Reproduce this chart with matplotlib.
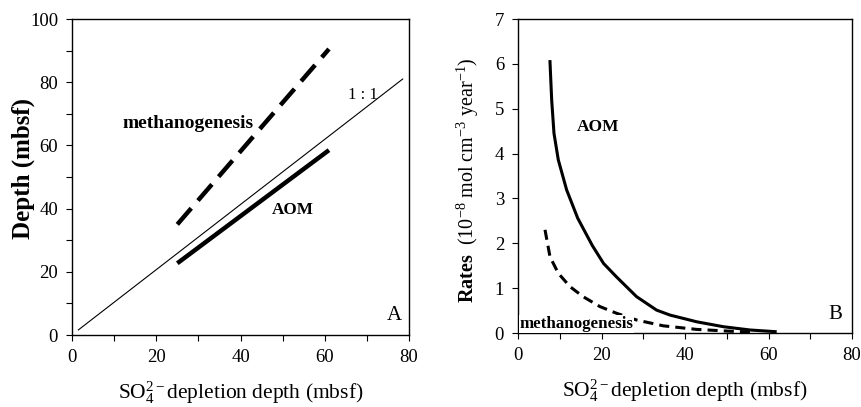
import matplotlib
matplotlib.use("Agg")
import matplotlib.pyplot as plt
import numpy as np

plt.rcParams['font.family'] = ['Liberation Serif', 'DejaVu Serif']
plt.rcParams['mathtext.fontset'] = 'custom'
plt.rcParams['mathtext.rm'] = 'Liberation Serif'
plt.rcParams['mathtext.it'] = 'Liberation Serif:italic'
plt.rcParams['mathtext.bf'] = 'Liberation Serif:bold'

# Panel A data
one_to_one_x = [1.5, 78.5]
one_to_one_y = [1.6, 81.0]
methano_a_x = [25.0, 61.0]
methano_a_y = [35.0, 90.5]
aom_a_x = [25.0, 61.0]
aom_a_y = [22.7, 58.5]

# Panel B data
aom_b_x = [7.66, 8.07, 8.62, 9.65, 11.65, 14.3, 17.8, 20.5, 23.6, 28.4, 33.2, 36.4, 42.8, 49.2, 55.6, 61.6]
aom_b_y = [6.05, 5.19, 4.45, 3.86, 3.19, 2.56, 1.95, 1.55, 1.25, 0.81, 0.51, 0.40, 0.25, 0.14, 0.067, 0.03]
met_b_x = [6.47, 7.66, 9.66, 12.5, 15.6, 19.6, 23.6, 28.4, 34.8, 42.8, 50.8, 57.0]
met_b_y = [2.30, 1.70, 1.33, 1.03, 0.81, 0.59, 0.44, 0.29, 0.16, 0.08, 0.04, 0.018]

fig = plt.figure(figsize=(8.61, 4.07), dpi=100)
W, H = 861, 407
axA = fig.add_axes([72 / W, 1 - 335 / H, (409 - 72) / W, (335 - 19) / H])
axB = fig.add_axes([518 / W, 1 - 333 / H, (852 - 518) / W, (333 - 19) / H])

# Panel A
axA.plot(one_to_one_x, one_to_one_y, color='black', lw=0.8)
axA.plot(methano_a_x, methano_a_y, color='black', lw=3.2, dashes=(4.8, 2.3),
         solid_capstyle='butt', dash_capstyle='butt')
axA.plot(aom_a_x, aom_a_y, color='black', lw=3.2, solid_capstyle='butt')
axA.set_xlim(0, 80)
axA.set_ylim(0, 100)
axA.set_xticks(np.arange(0, 81, 10))
axA.set_xticklabels(['0', '', '20', '', '40', '', '60', '', '80'])
axA.set_yticks(np.arange(0, 101, 10))
axA.set_yticklabels(['0', '', '20', '', '40', '', '60', '', '80', '', '100'])
axA.text(11.9, 67, 'methanogenesis', fontsize=14, fontweight='bold', va='center', ha='left')
axA.text(47.5, 39.5, 'AOM', fontsize=12.3, fontweight='bold', va='center', ha='left')
axA.text(65.5, 76, '1 : 1', fontsize=12, va='center', ha='left')
axA.text(76.5, 6.3, 'A', fontsize=15, va='center', ha='center')
axA.set_ylabel('Depth (mbsf)', fontsize=18, fontweight='bold')
axA.yaxis.set_label_coords(-0.11, 0.528)
axA.set_xlabel('SO$_4^{2\u2212}$depletion depth (mbsf)', fontsize=15.5, labelpad=10)

# Panel B
axB.plot(aom_b_x, aom_b_y, color='black', lw=2.2)
axB.plot(met_b_x, met_b_y, color='black', lw=2.2, dashes=(3.3, 2.0))
axB.set_xlim(0, 80)
axB.set_ylim(0, 7)
axB.set_xticks(np.arange(0, 81, 10))
axB.set_xticklabels(['0', '', '20', '', '40', '', '60', '', '80'])
axB.set_yticks(np.arange(0, 8, 1))
axB.text(14, 4.6, 'AOM', fontsize=12.5, fontweight='bold', va='center', ha='left')
axB.text(0.3, 0.2, 'methanogenesis', fontsize=12.2, fontweight='bold', va='center', ha='left',
         bbox=dict(facecolor='white', edgecolor='none', pad=0.5), zorder=5)
axB.text(76, 0.42, 'B', fontsize=15, va='center', ha='center')
axB.set_ylabel(r'$\mathbf{Rates}$  (10$^{-8}$ mol cm$^{-3}$ year$^{-1}$)', fontsize=14.5)
axB.yaxis.set_label_coords(-0.11, 0.487)
axB.set_xlabel('SO$_4^{2\u2212}$depletion depth (mbsf)', fontsize=15.5, labelpad=10)

for ax in (axA, axB):
    ax.tick_params(direction='out', length=4, width=0.8, labelsize=13.5, top=False, right=False, pad=6)
    for s in ax.spines.values():
        s.set_linewidth(1.0)

fig.savefig('out.png', dpi=100)
